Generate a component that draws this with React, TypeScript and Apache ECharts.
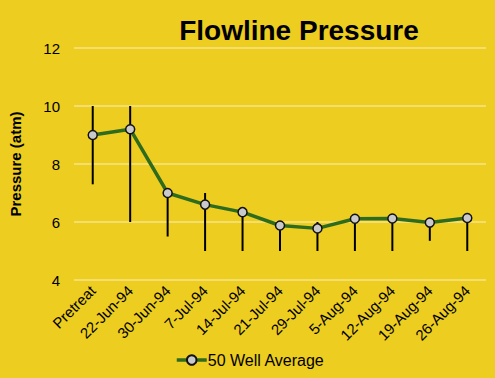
import React, { useEffect, useRef } from "react";
import * as echarts from "echarts";

const categories = ["Pretreat", "22-Jun-94", "30-Jun-94", "7-Jul-94", "14-Jul-94", "21-Jul-94", "29-Jul-94", "5-Aug-94", "12-Aug-94", "19-Aug-94", "26-Aug-94"];
const averages = [9.0, 9.2, 7.0, 6.6, 6.34, 5.88, 5.78, 6.11, 6.12, 5.98, 6.14];
const errHigh = [10.0, 10.0, 7.0, 7.0, 6.34, 5.88, 6.0, 6.11, 6.12, 6.0, 6.14];
const errLow = [7.3, 6.0, 5.5, 5.0, 5.0, 5.0, 5.0, 5.0, 5.0, 5.35, 5.0];

export default function App() {
  const ref = useRef<HTMLDivElement>(null);
  useEffect(() => {
    const chart = echarts.init(ref.current!, null, { renderer: "svg" });
    const font = "Liberation Sans, Arial, sans-serif";
    chart.setOption({
      animation: false,
      backgroundColor: "#edcd1f",
      textStyle: { fontFamily: font },
      title: {
        text: "Flowline Pressure",
        left: 294,
        textAlign: "center",
        top: 11,
        textStyle: { fontSize: 28, fontWeight: "bold", color: "#000", fontFamily: font },
      },
      grid: { left: 71, right: 9, top: 48, bottom: 98, containLabel: false },
      legend: {
        data: ["50 Well Average"],
        top: 347,
        left: 170,
        itemWidth: 30,
        itemHeight: 12,
        itemGap: 2,
        lineStyle: { width: 3.5 },
        textStyle: { fontSize: 16, color: "#000", fontFamily: font, padding: [0, 0, 0, -4] },
      },
      xAxis: {
        type: "category",
        data: categories,
        boundaryGap: true,
        axisLine: { show: false },
        axisTick: { show: false },
        axisLabel: { rotate: 45, fontSize: 15, color: "#000", margin: 8, interval: 0, fontFamily: font },
      },
      yAxis: {
        type: "value",
        min: 4,
        max: 12,
        interval: 2,
        name: "Pressure (atm)",
        nameLocation: "middle",
        nameGap: 51,
        nameTextStyle: { fontSize: 15, fontWeight: "bold", color: "#000", fontFamily: font },
        axisLine: { show: false },
        axisTick: { show: false },
        axisLabel: { fontSize: 15, color: "#000", margin: 14, fontFamily: font },
        splitLine: { lineStyle: { color: "#f6e38a", width: 1.5 } },
      },
      series: [
        {
          type: "custom",
          name: "err",
          data: categories.map((_, i) => [i, errLow[i], errHigh[i]]),
          renderItem: (params: any, api: any) => {
            const i = api.value(0);
            const lo = api.coord([i, api.value(1)]);
            const hi = api.coord([i, api.value(2)]);
            return {
              type: "line",
              shape: { x1: lo[0], y1: lo[1], x2: hi[0], y2: hi[1] },
              style: { stroke: "#000", lineWidth: 2 },
            };
          },
          z: 1,
          silent: true,
        },
        {
          type: "line",
          name: "50 Well Average",
          data: averages,
          symbol: "circle",
          symbolSize: 9,
          lineStyle: { color: "#2f6b1e", width: 3.5 },
          itemStyle: { color: "#c9c9cc", borderColor: "#111", borderWidth: 1.5 },
          z: 3,
        },
      ],
    });
    return () => chart.dispose();
  }, []);
  return <div ref={ref} style={{ width: 495, height: 378, position: "absolute", left: 0, top: 0 }} />;
}
